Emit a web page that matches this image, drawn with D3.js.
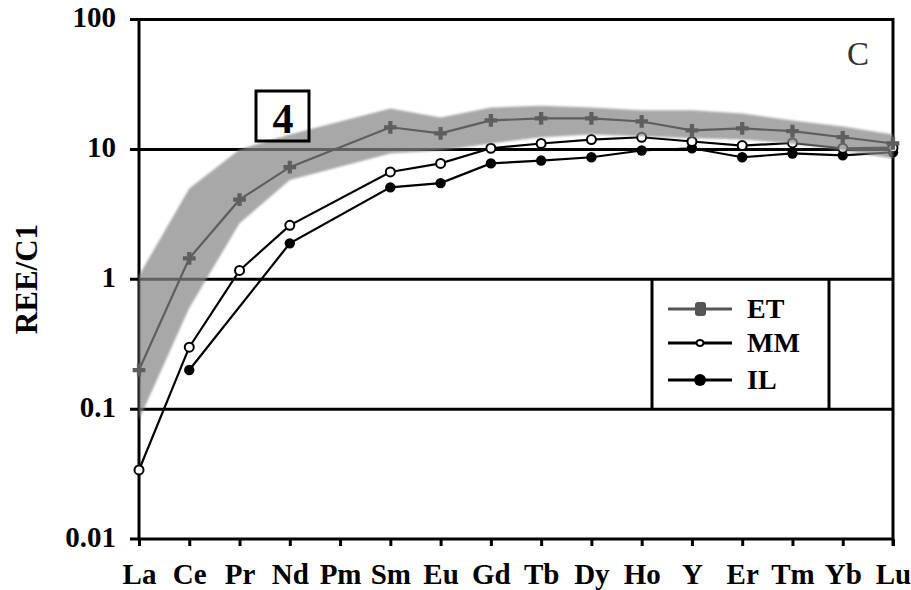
<!DOCTYPE html>
<html>
<head>
<meta charset="utf-8">
<script src="https://cdn.jsdelivr.net/npm/d3@7"></script>
<style>
  html, body { margin: 0; padding: 0; background: #fff; }
  svg { display: block; }
  text { font-family: "Liberation Serif", "Times New Roman", serif; }
</style>
</head>
<body>
<svg id="chart" width="911" height="590"></svg>
<script>
const categories = ["La","Ce","Pr","Nd","Pm","Sm","Eu","Gd","Tb","Dy","Ho","Y","Er","Tm","Yb","Lu"];
const etValues   = [0.2, 1.45, 4.1, 7.3, null, 14.8, 13.3, 16.7, 17.3, 17.3, 16.4, 14.0, 14.5, 13.8, 12.4, 11.1];
const mmValues   = [0.034, 0.30, 1.17, 2.6, null, 6.7, 7.8, 10.2, 11.1, 11.9, 12.4, 11.5, 10.7, 11.2, 10.2, 10.3];
const ilValues   = [null, 0.2, null, 1.89, null, 5.1, 5.5, 7.8, 8.2, 8.7, 9.8, 10.2, 8.7, 9.3, 9.0, 9.5];
const bandUpper  = [1.07, 5.0, 10, 13, null, 20.6, 17.6, 21, 21.7, 21, 20, 20, 18.9, 16.7, 15, 13];
const bandLower  = [0.083, 0.6, 2.7, 5.8, null, 9.3, 9.8, 11.1, 12.4, 13, 12.6, 12.2, 11.9, 11.1, 9.8, 8.5];
const yTickValues = [0.01, 0.1, 1, 10, 100];
const yTickLabels = ["0.01", "0.1", "1", "10", "100"];
const legendNames = ["ET", "MM", "IL"];
const yTitle = "REE/C1";
const panelLetter = "C";
const boxLabel = "4";

const svg = d3.select("#chart");
const L = 139, R = 893, T = 19.5, B = 539;
const x = d3.scalePoint().domain(categories).range([L, R]);
const y = d3.scaleLog().domain([0.01, 100]).range([B, T]);

const defs = svg.append("defs");
defs.append("filter").attr("id", "blur").attr("x", "-5%").attr("y", "-5%").attr("width", "110%").attr("height", "110%")
  .append("feGaussianBlur").attr("stdDeviation", 1.3);

// gridlines (decades) and frame
const grid = svg.append("g");
grid.selectAll("line.g").data(yTickValues).join("line")
  .attr("x1", L - 9).attr("x2", R).attr("y1", d => y(d)).attr("y2", d => y(d))
  .attr("stroke", "#000").attr("stroke-width", 3);
grid.append("line").attr("x1", L).attr("x2", L).attr("y1", T).attr("y2", B + 1.5).attr("stroke", "#000").attr("stroke-width", 3);
grid.append("line").attr("x1", R).attr("x2", R).attr("y1", T - 1.5).attr("y2", B + 7).attr("stroke", "#000").attr("stroke-width", 3);

// x axis ticks + labels
const xAxis = d3.axisBottom(x).tickSize(7).tickPadding(17);
const gx = svg.append("g").attr("transform", `translate(0,${B})`).call(xAxis);
gx.select(".domain").remove();
gx.selectAll(".tick line").attr("stroke", "#000").attr("stroke-width", 3);
gx.selectAll(".tick text").attr("font-size", 29).attr("font-weight", "bold").attr("fill", "#000")
  .attr("font-family", "Liberation Serif, serif").attr("dy", "0.71em");

// y tick labels
const yAxis = d3.axisLeft(y).tickValues(yTickValues).tickFormat((d, i) => yTickLabels[i]).tickSize(0).tickPadding(23);
const gy = svg.append("g").attr("transform", `translate(${L},0)`).call(yAxis);
gy.select(".domain").remove();
gy.selectAll(".tick text").attr("font-size", 29).attr("font-weight", "bold").attr("fill", "#000")
  .attr("font-family", "Liberation Serif, serif").attr("dy", "0.25em");

// y title
svg.append("text").attr("transform", "translate(37,279) rotate(-90)")
  .attr("text-anchor", "middle").attr("font-size", 31).attr("font-weight", "bold").text(yTitle);

function pts(vals) {
  return categories.map((c, i) => ({ c, v: vals[i] })).filter(d => d.v != null);
}
const line = d3.line().x(d => x(d.c)).y(d => y(d.v));

// MM and IL series (drawn beneath the band)
const mmPts = pts(mmValues), ilPts = pts(ilValues);
svg.append("path").attr("d", line(mmPts)).attr("fill", "none").attr("stroke", "#000").attr("stroke-width", 2.2);
svg.append("path").attr("d", line(ilPts)).attr("fill", "none").attr("stroke", "#000").attr("stroke-width", 2.2);
svg.selectAll("circle.il").data(ilPts).join("circle").attr("class", "il")
  .attr("cx", d => x(d.c)).attr("cy", d => y(d.v)).attr("r", 5.2).attr("fill", "#000");
svg.selectAll("circle.mm").data(mmPts).join("circle").attr("class", "mm")
  .attr("cx", d => x(d.c)).attr("cy", d => y(d.v)).attr("r", 4.5).attr("fill", "#fff").attr("stroke", "#000").attr("stroke-width", 2);

// shaded band
const bandPts = categories.map((c, i) => ({ c, lo: bandLower[i], hi: bandUpper[i] })).filter(d => d.lo != null && d.hi != null);
const area = d3.area().x(d => x(d.c)).y0(d => y(d.lo)).y1(d => y(d.hi));
svg.append("path").attr("d", area(bandPts)).attr("fill", "#878787").attr("fill-opacity", 0.72).attr("filter", "url(#blur)");

// ET series
const etPts = pts(etValues);
svg.append("path").attr("d", line(etPts)).attr("fill", "none").attr("stroke", "#5e5e5e").attr("stroke-width", 2.2);
const cross = d3.symbol().type(d3.symbolCross).size(90);
svg.selectAll("path.et").data(etPts).join("path").attr("class", "et")
  .attr("transform", d => `translate(${x(d.c)},${y(d.v)})`).attr("d", cross).attr("fill", "#5e5e5e");

// legend
const lg = svg.append("g");
lg.append("line").attr("x1", 652).attr("x2", 652).attr("y1", y(1)).attr("y2", y(0.1)).attr("stroke", "#000").attr("stroke-width", 3);
lg.append("line").attr("x1", 829).attr("x2", 829).attr("y1", y(1)).attr("y2", y(0.1)).attr("stroke", "#000").attr("stroke-width", 3);
const ly = [309, 343, 380];
legendNames.forEach((name, i) => {
  const col = i === 0 ? "#555" : "#000";
  lg.append("line").attr("x1", 668).attr("x2", 732).attr("y1", ly[i]).attr("y2", ly[i]).attr("stroke", col).attr("stroke-width", 3);
  if (i === 0) {
    lg.append("rect").attr("x", 695).attr("y", ly[i] - 7).attr("width", 11).attr("height", 14).attr("rx", 3).attr("fill", col);
  } else if (i === 1) {
    lg.append("ellipse").attr("cx", 700).attr("cy", ly[i]).attr("rx", 3.5).attr("ry", 3).attr("fill", "#fff").attr("stroke", "#000").attr("stroke-width", 2);
  } else {
    lg.append("circle").attr("cx", 700).attr("cy", ly[i]).attr("r", 6).attr("fill", "#000");
  }
  lg.append("text").attr("x", 747).attr("y", ly[i] + 9).attr("font-size", 28).attr("font-weight", "bold").text(name);
});

// "4" box
svg.append("rect").attr("x", 256).attr("y", 91).attr("width", 53).attr("height", 50)
  .attr("fill", "none").attr("stroke", "#000").attr("stroke-width", 3);
svg.append("text").attr("x", 283).attr("y", 133).attr("text-anchor", "middle")
  .attr("font-size", 42).attr("font-weight", "bold").text(boxLabel);

// panel letter
svg.append("text").attr("x", 858).attr("y", 65).attr("text-anchor", "middle")
  .attr("font-size", 33).attr("fill", "#333").text(panelLetter);
</script>
</body>
</html>
